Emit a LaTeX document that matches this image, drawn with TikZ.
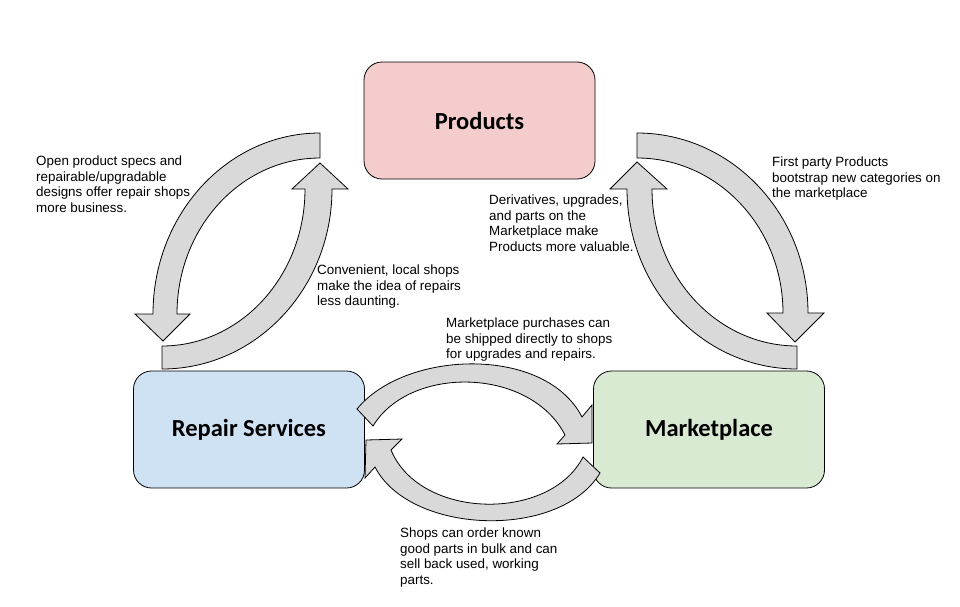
\documentclass[tikz,border=0pt]{standalone}
\usepackage{fontspec}
\setmainfont{Liberation Sans}
\newfontfamily\boxfont{Carlito}
\usepackage{xcolor}
\definecolor{prodfill}{HTML}{F4CCCC}
\definecolor{repairfill}{HTML}{CFE2F3}
\definecolor{marketfill}{HTML}{D9EAD3}
\definecolor{arrowfill}{HTML}{D9D9D9}
\tikzset{
    box/.style   ={draw=black, line width=0.8pt, rounded corners=18pt,
                   minimum width=231pt, minimum height=117pt,
                   font=\boxfont\bfseries\fontsize{24.5}{28}\selectfont},
    bigarr/.style={draw=black, line width=0.8pt, fill=arrowfill},
    note/.style  ={anchor=north west, inner sep=0pt, align=left,
                   font=\fontsize{13.4}{15.4}\selectfont}
}

\begin{document}
\begin{tikzpicture}[x=1pt, y=-1pt]
  \useasboundingbox (0,0) rectangle (960,606);

  \node[box, fill=prodfill]   (prod)   at (479.5,120.5) {Products};
  \node[box, fill=repairfill] (repair) at (249,429.5)   {Repair Services};
  \node[box, fill=marketfill] (market) at (709,429.5)   {Marketplace};

  % products -> repair services
  \draw[bigarr] (320,133) .. controls (227.8,133) and (153,214) .. (153,314)
       -- (135,314) -- (163,341) -- (190,314) -- (177,314)
       .. controls (177,227.8) and (241,158) .. (320,158) -- cycle;
  % repair services -> products
  \draw[bigarr] (162,369) .. controls (255.9,369) and (332,288.4) .. (332,189)
       -- (348,189) -- (320,163) -- (292,189) -- (305,189)
       .. controls (305,275.7) and (241,346) .. (162,346) -- cycle;
  % products -> marketplace
  \draw[bigarr] (637,133) .. controls (731.4,133) and (808,213.6) .. (808,313)
       -- (824,313) -- (795,342) -- (767,313) -- (783,313)
       .. controls (783,227.4) and (717.6,158) .. (637,158) -- cycle;
  % marketplace -> products
  \draw[bigarr] (797,369) .. controls (703.1,369) and (627,288.4) .. (627,189)
       -- (610,189) -- (637,162) -- (667,189) -- (652,189)
       .. controls (652,275.7) and (717,346) .. (797,346) -- cycle;
  % repair services -> marketplace
  \draw[bigarr] (357,409) .. controls (405,350) and (545,345) .. (582,417)
       -- (592,405) -- (592,443) -- (557,444) -- (565,435)
       .. controls (530,367) and (410,365) .. (373,426) -- cycle;
  % marketplace -> repair services
  \draw[bigarr] (600,473) .. controls (560,540) and (410,535) .. (375,467)
       -- (365,478) -- (366,440) -- (402,439) -- (391,450)
       .. controls (420,520) and (550,522) .. (583,457) -- cycle;

  \node[note] (specs) at (36,156)  {Open product specs and\\repairable/upgradable\\designs offer repair shops\\more business.};
  \node[note] (deriv) at (489,195) {Derivatives, upgrades,\\and parts on the\\Marketplace make\\Products more valuable.};
  \node[note] (first) at (772,157) {First party Products\\bootstrap new categories on\\the marketplace};
  \node[note] (local) at (317,265) {Convenient, local shops\\make the idea of repairs\\less daunting.};
  \node[note] (ship)  at (446,318) {Marketplace purchases can\\be shipped directly to shops\\for upgrades and repairs.};
  \node[note] (bulk)  at (400,528) {Shops can order known\\good parts in bulk and can\\sell back used, working\\parts.};
\end{tikzpicture}
\end{document}
